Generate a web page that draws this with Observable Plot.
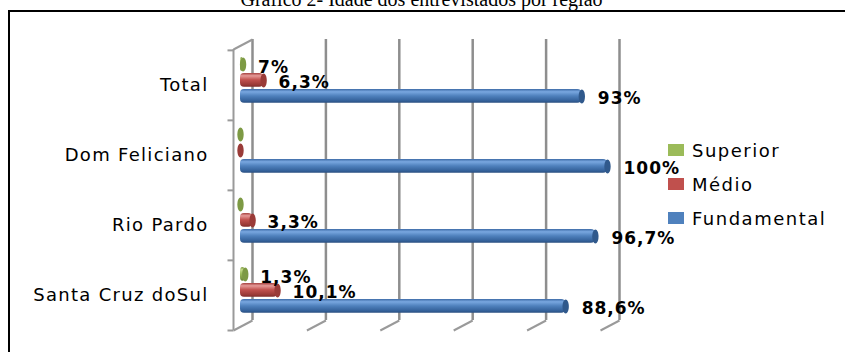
<!DOCTYPE html>
<html>
<head>
<meta charset="utf-8">
<script src="https://cdn.jsdelivr.net/npm/d3@7"></script>
<script src="https://cdn.jsdelivr.net/npm/@observablehq/plot@0.6"></script>
<style>
html,body{margin:0;padding:0;background:#fff;overflow:hidden;}
#fig{position:relative;width:845px;height:352px;overflow:hidden;background:#fff;}
#title{position:absolute;left:0;width:843px;top:-11px;text-align:center;font:20px "Liberation Serif",serif;color:#000;line-height:20px;white-space:nowrap;}
#chart{position:absolute;left:0;top:0;}
#frame{position:absolute;left:8px;top:10px;width:880px;height:400px;border-left:2px solid #000;border-top:2px solid #000;pointer-events:none;}
#legend{position:absolute;left:668px;top:133px;width:175px;}
#legend > div{font:18px "DejaVu Sans",sans-serif !important;letter-spacing:1.5px;color:#000;margin:0 !important;display:flex !important;flex-direction:column !important;align-items:flex-start !important;justify-content:flex-start !important;text-align:left !important;}
#legend > div > span, #legend > div > div{display:flex !important;align-items:center !important;justify-content:flex-start !important;height:34px;margin:0 !important;padding:0 !important;font:inherit !important;}
#legend svg{margin:0 8px 0 0 !important;}
#chart g[aria-label="y-axis tick label"] text{letter-spacing:1.3px;}
#chart g[aria-label="text"] text{letter-spacing:1px;}
</style>
</head>
<body>
<svg width="0" height="0" style="position:absolute">
  <defs>
    <linearGradient id="gBlue" x1="0" y1="0" x2="0" y2="1">
      <stop offset="0" stop-color="#3d6aa5"/>
      <stop offset="0.2" stop-color="#79a7e0"/>
      <stop offset="0.5" stop-color="#4f81bd"/>
      <stop offset="0.85" stop-color="#34619a"/>
      <stop offset="1" stop-color="#2a4f80"/>
    </linearGradient>
    <linearGradient id="gRed" x1="0" y1="0" x2="0" y2="1">
      <stop offset="0" stop-color="#a5403e"/>
      <stop offset="0.2" stop-color="#e59a98"/>
      <stop offset="0.5" stop-color="#c0504d"/>
      <stop offset="0.85" stop-color="#9a3a37"/>
      <stop offset="1" stop-color="#7e2d2b"/>
    </linearGradient>
    <linearGradient id="gGreen" x1="0" y1="0" x2="0" y2="1">
      <stop offset="0" stop-color="#7f9a45"/>
      <stop offset="0.2" stop-color="#c5dc8c"/>
      <stop offset="0.5" stop-color="#9bbb59"/>
      <stop offset="0.85" stop-color="#7a9642"/>
      <stop offset="1" stop-color="#637c33"/>
    </linearGradient>
  </defs>
</svg>
<div id="fig">
  <div id="title">Gráfico 2- Idade dos entrevistados por região</div>
  <div id="chart"></div>
  <div id="frame"></div>
  <div id="legend"></div>
</div>
<script>
// ---- data ----
const categories = ["Total", "Dom Feliciano", "Rio Pardo", "Santa Cruz doSul"];
const seriesNames = ["Superior", "Médio", "Fundamental"];
const seriesColors = ["#9bbb59", "#c0504d", "#4f81bd"];
const superiorValues = [0.7, 0, 0, 1.3];
const medioValues = [6.3, 0, 3.3, 10.1];
const fundamentalValues = [93, 100, 96.7, 88.6];
const superiorLabels = ["7%", "", "", "1,3%"];
const medioLabels = ["6,3%", "", "3,3%", "10,1%"];
const fundamentalLabels = ["93%", "100%", "96,7%", "88,6%"];
const gridTicks = [0, 20, 40, 60, 80, 100];

const rows = (vals, labs) => categories.map((c, i) => ({category: c, value: vals[i], label: labs[i]}));

// ---- styles ----
const bw = 70.25; // band height in px (style)
const barH = 14;
const seriesStyle = [
  {rows: rows(fundamentalValues, fundamentalLabels), grad: "url(#gBlue)", cap: "#30598c", top: 39, dy: 11, labelDy: 13.5, labelDx: 16},
  {rows: rows(medioValues, medioLabels), grad: "url(#gRed)", cap: "#9a3b38", top: 23, dy: -5, labelDy: -2.5, labelDx: 15},
  {rows: rows(superiorValues, superiorLabels), grad: "url(#gGreen)", cap: "#7d9a44", top: 7, dy: -21, labelDy: -18, labelDx: 15}
];

const ellipse = {
  draw(ctx, size) {
    const ry = Math.sqrt(size / Math.PI), rx = ry * 0.45, k = 0.5523;
    ctx.moveTo(rx, 0);
    ctx.bezierCurveTo(rx, k * ry, k * rx, ry, 0, ry);
    ctx.bezierCurveTo(-k * rx, ry, -rx, k * ry, -rx, 0);
    ctx.bezierCurveTo(-rx, -k * ry, -k * rx, -ry, 0, -ry);
    ctx.bezierCurveTo(k * rx, -ry, rx, -k * ry, rx, 0);
    ctx.closePath();
  }
};
const diag = {draw(ctx) { ctx.moveTo(0, 0); ctx.lineTo(-19, 10); }};
const tickLeft = {draw(ctx) { ctx.moveTo(0, 0); ctx.lineTo(-6, 0); }};

const axisColor = "#9a9a9a";
const marks = [
  Plot.ruleX(gridTicks, {dx: 12, dy: -10, stroke: "#8e8e8e", strokeWidth: 2.5}),
  Plot.dot(gridTicks, {x: d => d, frameAnchor: "bottom", dx: 12, dy: -10, symbol: diag, fill: "none", stroke: axisColor, strokeWidth: 2}),
  Plot.dot([0], {frameAnchor: "top-left", dx: 12, dy: -10, symbol: diag, fill: "none", stroke: axisColor, strokeWidth: 2}),
  Plot.ruleX([0], {dx: -7, stroke: axisColor, strokeWidth: 2}),
  Plot.dot(categories, {y: d => d, frameAnchor: "left", dx: -7, dy: -bw / 2, symbol: tickLeft, fill: "none", stroke: axisColor, strokeWidth: 2}),
  Plot.dot([0], {frameAnchor: "bottom-left", dx: -7, symbol: tickLeft, fill: "none", stroke: axisColor, strokeWidth: 2}),
  Plot.axisY({tickSize: 0, tickPadding: 32, fontSize: 18, label: null})
];
for (const s of seriesStyle) {
  marks.push(Plot.barX(s.rows, {x: "value", y: "category", fill: s.grad, insetTop: s.top, insetBottom: bw - s.top - barH, rx: 4}));
  marks.push(Plot.dot(s.rows, {x: "value", y: "category", dy: s.dy, r: 7, symbol: ellipse, fill: s.cap, stroke: "none"}));
}
for (const s of seriesStyle) {
  marks.push(Plot.text(s.rows, {x: "value", y: "category", text: "label", dx: s.labelDx, dy: s.labelDy, textAnchor: "start", fontWeight: "bold", fontSize: 17, fill: "#000"}));
}

const chart = Plot.plot({
  width: 845,
  height: 352,
  marginLeft: 240,
  marginRight: 238,
  marginTop: 49,
  marginBottom: 22,
  style: {fontFamily: "DejaVu Sans", color: "#000", background: "transparent"},
  x: {domain: [0, 100], axis: null},
  y: {domain: categories, padding: 0, axis: null, label: null},
  marks
});
document.getElementById("chart").appendChild(chart);

const legend = Plot.legend({
  color: {domain: seriesNames, range: seriesColors},
  legend: "swatches",
  swatchWidth: 16,
  swatchHeight: 12
});
document.getElementById("legend").appendChild(legend);
</script>
</body>
</html>
